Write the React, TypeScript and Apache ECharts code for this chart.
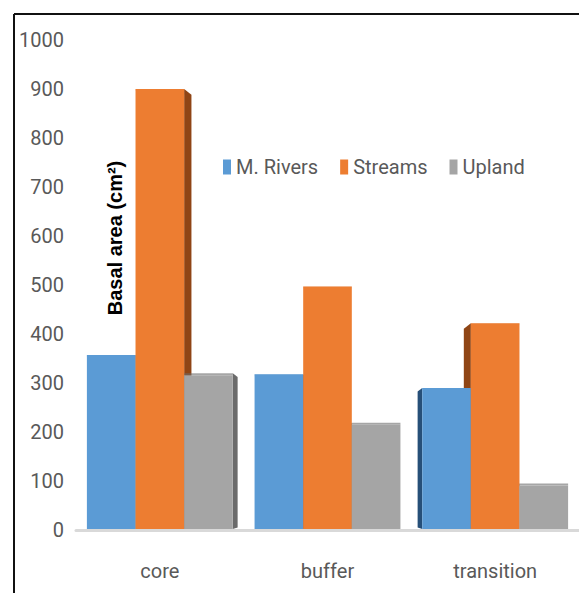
import React, { useEffect, useRef } from "react";
import * as echarts from "echarts";

const categories = ["core", "buffer", "transition"];
const seriesNames = ["M. Rivers", "Streams", "Upland"];
const riversValues = [357, 318, 290];
const streamsValues = [900, 497, 422];
const uplandValues = [320, 219, 95];
const yTicks = [0, 100, 200, 300, 400, 500, 600, 700, 800, 900, 1000];

const FONT = "Roboto, 'Liberation Sans', sans-serif";
const frontColors = ["#5b9bd5", "#ed7d31", "#a5a5a5"];
const sideColors = ["#264f78", "#8f4515", "#6b6b6b"];

export default function App() {
  const ref = useRef<HTMLDivElement>(null);
  useEffect(() => {
    if (!ref.current) return;
    const chart = echarts.init(ref.current, null, { renderer: "svg" });
    const allValues = [riversValues, streamsValues, uplandValues];
    const vanishX = 330;
    const k = 0.05;

    const makeRender = (si: number) => (params: any, api: any) => {
      const cat = api.value(0);
      const v = api.value(1);
      const base = api.coord([cat, 0]);
      const top = api.coord([cat, v]);
      const band = api.size([1, 0])[0];
      const w = band * 0.29;
      const x0 = base[0] + (si - 1) * w - w / 2;
      const x1 = x0 + w;
      const yTop = top[1];
      const yBot = base[1] - 1;
      const children: any[] = [];
      const rightD = (vanishX - x1) * k;
      const leftD = (vanishX - x0) * k;
      if (rightD > 0.5) {
        const d = rightD;
        children.push({
          type: "polygon",
          z2: 0,
          shape: {
            points: [
              [x1, yTop],
              [x1 + d, yTop + d * 0.8],
              [x1 + d, yBot - d * 0.3],
              [x1, yBot],
            ],
          },
          style: { fill: sideColors[si] },
        });
      } else if (leftD < -0.5) {
        const d = -leftD;
        children.push({
          type: "polygon",
          z2: 0,
          shape: {
            points: [
              [x0, yTop],
              [x0 - d, yTop + d * 0.8],
              [x0 - d, yBot - d * 0.3],
              [x0, yBot],
            ],
          },
          style: { fill: sideColors[si] },
        });
      }
      children.push({
        type: "rect",
        z2: 1,
        shape: { x: x0, y: yTop, width: w, height: 2 },
        style: { fill: sideColors[si], opacity: si === 2 ? 0.6 : 0.15 },
      });
      children.push({
        type: "rect",
        z2: 2,
        shape: { x: x0, y: yTop + (si === 2 ? 2 : 0), width: w, height: yBot - yTop - (si === 2 ? 2 : 0) },
        style: { fill: frontColors[si] },
      });
      return { type: "group", children };
    };

    chart.setOption({
      animation: false,
      backgroundColor: "#ffffff",
      grid: { left: 76, right: -7, top: 40, bottom: 63 },
      legend: {
        left: 218,
        top: 152,
        itemGap: 22,
        itemWidth: 8,
        itemHeight: 15,
        icon: "rect",
        data: seriesNames,
        textStyle: { fontFamily: FONT, fontSize: 20, color: "#595959" },
      },
      xAxis: {
        type: "category",
        data: categories,
        axisLine: { show: true, lineStyle: { color: "#d9d9d9", width: 3 } },
        axisTick: { show: false },
        axisLabel: { fontFamily: FONT, fontSize: 20, color: "#595959", margin: 31 },
      },
      yAxis: {
        type: "value",
        min: yTicks[0],
        max: yTicks[yTicks.length - 1],
        interval: 100,
        axisLine: { show: false },
        axisTick: { show: false },
        splitLine: { show: false },
        axisLabel: {
          fontFamily: FONT,
          fontSize: 20,
          color: "#595959",
          margin: 12,
          formatter: (v: number) => String(v),
        },
      },
      graphic: [
        { type: "line", shape: { x1: 14, y1: 14, x2: 579, y2: 14 }, style: { stroke: "#111", lineWidth: 2 } },
        { type: "line", shape: { x1: 14, y1: 14, x2: 14, y2: 593 }, style: { stroke: "#111", lineWidth: 2 } },
        {
          type: "text",
          x: 115,
          y: 238,
          rotation: Math.PI / 2,
          style: {
            text: "Basal area (cm²)",
            font: "bold 20px 'Liberation Sans', Arial, sans-serif",
            fill: "#000",
            textAlign: "center",
            textVerticalAlign: "middle",
          },
        },
      ],
      series: seriesNames.map((name, si) => ({
        type: "custom",
        name,
        itemStyle: { color: frontColors[si] },
        renderItem: makeRender(si),
        encode: { x: 0, y: 1 },
        data: categories.map((_, j) => [j, allValues[si][j]]),
      })),
    });
    return () => chart.dispose();
  }, []);
  return (
    <div
      ref={ref}
      style={{ position: "fixed", left: 0, top: 0, width: 579, height: 593 }}
    />
  );
}
